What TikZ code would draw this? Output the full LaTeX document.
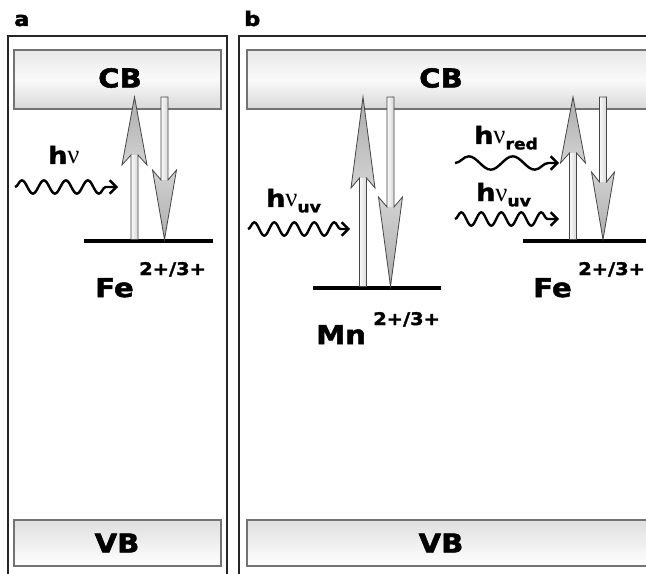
\documentclass[tikz,border=0pt]{standalone}
\usepackage{fontspec}
\usetikzlibrary{arrows.meta,decorations.pathmorphing}
\newfontfamily\bigsans{DejaVu Sans}[FakeStretch=1.12, BoldFeatures={FakeBold=2}]
\newfontfamily\nufont{Liberation Serif}
\tikzset{
  frame/.style={draw=black!85, line width=1.1pt},
  band/.style={draw=black!55, line width=0.8pt},
  cbshade/.style={top color=gray!18, bottom color=gray!30, middle color=gray!4},
  vbshade/.style={top color=gray!25, bottom color=white},
  bandtxt/.style={font=\bigsans\bfseries\fontsize{19.5}{20}\selectfont, inner sep=0pt},
  iontxt/.style={font=\bigsans\bfseries\fontsize{19.5}{20}\selectfont, inner sep=0pt, anchor=base west},
  suptxt/.style={font=\bigsans\bfseries\fontsize{13}{13}\selectfont, inner sep=0pt, anchor=base west},
  lbltxt/.style={font=\bigsans\bfseries\fontsize{15}{15}\selectfont, inner sep=0pt, anchor=base west},
  phtxt/.style={inner sep=0pt, anchor=base west},
  levelline/.style={line width=3pt, black},
  outl/.style={draw=gray!55!black, line width=0.6pt, line join=miter},
  wavy/.style={decorate, decoration={snake, segment length=#1, amplitude=5pt, pre length=0pt, post length=7pt},
    line width=1.8pt, black, -{Straight Barb[length=5pt, width=10pt, line width=1.8pt]}},
}
\newcommand{\hhh}{{\bigsans\bfseries\fontsize{18}{18}\selectfont h}}
\newcommand{\nnu}{{\nufont\fontsize{20}{20}\selectfont ν}}
\newcommand{\subtxt}[1]{\raisebox{-4pt}{\bigsans\bfseries\fontsize{11.5}{11.5}\selectfont #1}}
% #1 cx, #2 start y, #3 tip y, #4 barb y, #5 junction y, #6 head half width, #7 head top colour, #8 head bottom colour
\newcommand{\fatarrow}[8]{%
  \shade[left color=gray!5, right color=gray!30] (#1-3.5,#2) rectangle (#1+3.5,#5);
  \shade[top color=#7, bottom color=#8] (#1,#3) -- (#1+#6,#4) -- (#1+3.5,#5) -- (#1-3.5,#5) -- (#1-#6,#4) -- cycle;
  \draw[outl] (#1-3.5,#2) -- (#1-3.5,#5) -- (#1-#6,#4) -- (#1,#3) -- (#1+#6,#4) -- (#1+3.5,#5) -- (#1+3.5,#2) -- cycle;
}
\begin{document}
\begin{tikzpicture}[x=0.75pt, y=-0.75pt]
\useasboundingbox (0,0) rectangle (646,574);
\clip (0,0) rectangle (646,574);
\fill[white] (0,0) rectangle (646,574);

% panel frames
\draw[frame] (8,36) rectangle (227,600);
\draw[frame] (239,36) rectangle (680,600);
\node[lbltxt] (la) at (14,26) {a};
\node[lbltxt] (lb) at (244,26) {b};

% bands
\shade[cbshade] (14,50) rectangle (221,109);
\draw[band] (14,50) rectangle (221,109);
\shade[cbshade] (247,50) rectangle (680,109);
\draw[band] (247,50) rectangle (680,109);
\shade[vbshade] (14,520) rectangle (221,566);
\draw[band] (14,520) rectangle (221,566);
\shade[vbshade] (247,520) rectangle (680,566);
\draw[band] (247,520) rectangle (680,566);
\node[bandtxt] (cba) at (120,78) {CB};
\node[bandtxt] (cbb) at (441,78) {CB};
\node[bandtxt] (vba) at (117,543) {VB};
\node[bandtxt] (vbb) at (441,543) {VB};

% levels
\coordinate (lvla1) at (84,241);  \coordinate (lvla2) at (213,241);
\coordinate (lvlm1) at (313,288); \coordinate (lvlm2) at (441,288);
\coordinate (lvlf1) at (523,241); \coordinate (lvlf2) at (680,241);
\draw[levelline] (lvla1) -- (lvla2);
\draw[levelline] (lvlm1) -- (lvlm2);
\draw[levelline] (lvlf1) -- (lvlf2);

% panel a arrows
\fatarrow{134.5}{239.5}{97}{165}{155}{12.5}{gray!65}{gray!35}
\fatarrow{164.5}{97}{239.5}{170}{180}{12}{gray!35}{gray!65}
% panel b Mn arrows
\fatarrow{363}{286.5}{97}{188}{178}{12}{gray!65}{gray!35}
\fatarrow{390.5}{97}{286.5}{197}{207}{12}{gray!35}{gray!65}
% panel b Fe arrows
\fatarrow{573}{239.5}{97}{163}{153}{12.5}{gray!65}{gray!35}
\fatarrow{603}{97}{239.5}{172}{182}{11.5}{gray!35}{gray!65}

% ion labels
\node[iontxt] (fea) at (95,297) {Fe};
\node[suptxt] (fesa) at (139,275) {2+/3+};
\node[iontxt] (mn) at (316,344) {Mn};
\node[suptxt] (mns) at (373,325) {2+/3+};
\node[iontxt] (feb) at (533,297) {Fe};
\node[suptxt] (fesb) at (578,275) {2+/3+};

% photon labels
\node[phtxt] (hva) at (48,164) {\hhh\nnu};
\node[phtxt] (hvm) at (266,207) {\hhh\nnu\subtxt{uv}};
\node[phtxt] (hvr) at (474,144) {\hhh\nnu\subtxt{red}};
\node[phtxt] (hvu) at (476,201) {\hhh\nnu\subtxt{uv}};

% waves
\coordinate (wa1) at (15,187);  \coordinate (wa2) at (118,187);
\coordinate (wm1) at (248,229); \coordinate (wm2) at (350,229);
\coordinate (wr1) at (455,163); \coordinate (wr2) at (559,163);
\coordinate (wu1) at (455,219); \coordinate (wu2) at (559,219);
\draw[wavy=16.5pt] (wa1) -- (wa2);
\draw[wavy=15pt] (wm1) -- (wm2);
\draw[wavy=33pt] (wr1) -- (wr2);
\draw[wavy=15pt] (wu1) -- (wu2);
\end{tikzpicture}
\end{document}
